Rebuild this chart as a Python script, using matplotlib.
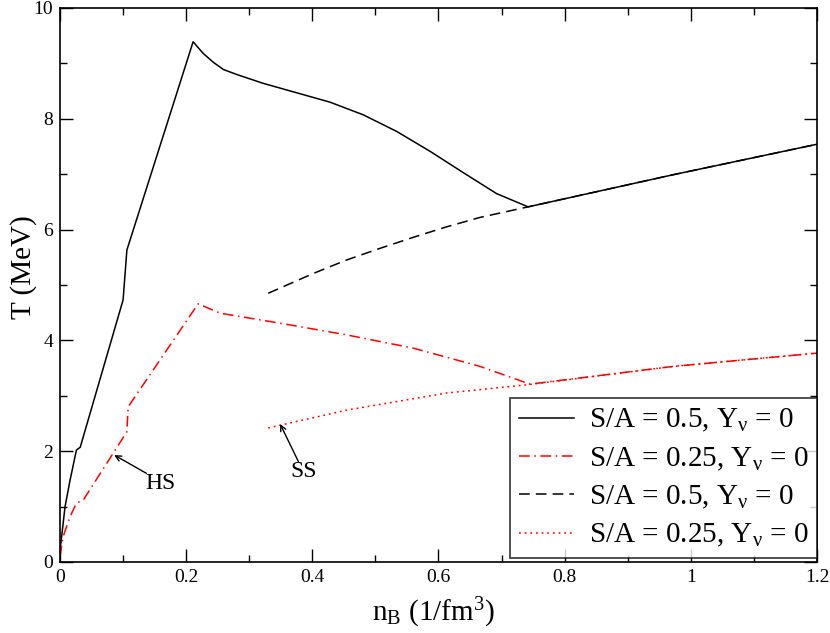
import matplotlib
matplotlib.use('Agg')
import matplotlib.pyplot as plt
from matplotlib.ticker import MultipleLocator

plt.rcParams['font.family'] = ['Liberation Serif', 'DejaVu Serif']
plt.rcParams['mathtext.fontset'] = 'custom'
plt.rcParams['mathtext.rm'] = 'Liberation Serif'
plt.rcParams['mathtext.it'] = 'Liberation Serif:italic'

# S/A = 0.5, solid (HS)
hs1_x = [0.0, 0.008, 0.016, 0.026, 0.032, 0.100, 0.106, 0.211, 0.227, 0.243, 0.259,
         0.280, 0.322, 0.375, 0.428, 0.481, 0.534, 0.587, 0.639, 0.692, 0.742, 0.972, 1.2]
hs1_y = [0.2, 1.0, 1.48, 2.02, 2.07, 4.73, 5.63, 9.39, 9.18, 9.02, 8.89,
         8.80, 8.64, 8.47, 8.30, 8.07, 7.77, 7.41, 7.03, 6.65, 6.41, 6.99, 7.54]

# S/A = 0.25, dash-dot (HS)
hs2_x = [0.0, 0.005, 0.016, 0.026, 0.037, 0.106, 0.108, 0.219, 0.254, 0.349,
         0.454, 0.560, 0.666, 0.745, 0.972, 1.2]
hs2_y = [0.1, 0.46, 0.82, 1.06, 1.12, 2.35, 2.80, 4.66, 4.49, 4.31,
         4.10, 3.86, 3.53, 3.21, 3.53, 3.77]

# S/A = 0.5, dashed (SS)
ss1_x = [0.330, 0.402, 0.454, 0.507, 0.560, 0.613, 0.666, 0.742, 0.972, 1.2]
ss1_y = [4.85, 5.21, 5.45, 5.66, 5.86, 6.05, 6.22, 6.41, 6.99, 7.54]

# S/A = 0.25, dotted (SS)
ss2_x = [0.330, 0.454, 0.613, 0.742, 0.972, 1.2]
ss2_y = [2.42, 2.74, 3.05, 3.20, 3.53, 3.77]

labels = [r'S/A = 0.5, Y$_\mathrm{\nu}$ = 0', r'S/A = 0.25, Y$_\mathrm{\nu}$ = 0',
          r'S/A = 0.5, Y$_\mathrm{\nu}$ = 0', r'S/A = 0.25, Y$_\mathrm{\nu}$ = 0']

fig = plt.figure(figsize=(8.3, 6.33), dpi=100)
ax = fig.add_axes([0.0723, 0.1122, 0.912, 0.8752])

lw = 1.1
ax.plot(hs1_x, hs1_y, color='black', lw=lw, label=labels[0])
ax.plot(hs2_x, hs2_y, color='red', lw=lw, dashes=(7, 3, 1, 3), label=labels[1])
ax.plot(ss1_x, ss1_y, color='black', lw=lw, dashes=(7, 4), label=labels[2])
ax.plot(ss2_x, ss2_y, color='red', lw=lw, dashes=(1.2, 2.5), label=labels[3])

# annotations
ax.annotate('', xy=(0.086, 1.93), xytext=(0.137, 1.60),
            arrowprops=dict(arrowstyle='->', color='black', lw=1.0, shrinkA=0, shrinkB=0))
ax.text(0.159, 1.42, 'HS', fontsize=17, ha='center', va='center')
ax.annotate('', xy=(0.349, 2.49), xytext=(0.378, 1.81),
            arrowprops=dict(arrowstyle='->', color='black', lw=1.0, shrinkA=0, shrinkB=0))
ax.text(0.386, 1.63, 'SS', fontsize=17, ha='center', va='center')

ax.set_xlim(0, 1.2)
ax.set_ylim(0, 10)
ax.xaxis.set_minor_locator(MultipleLocator(0.1))
ax.yaxis.set_major_locator(MultipleLocator(2))
ax.yaxis.set_minor_locator(MultipleLocator(1))
ax.set_xticks([0, 0.2, 0.4, 0.6, 0.8, 1.0, 1.2])
ax.set_xticklabels(['0', '0.2', '0.4', '0.6', '0.8', '1', '1.2'])
ax.tick_params(which='both', direction='in', top=True, right=True, labelsize=14, width=1.0)
ax.tick_params(which='major', length=9.5, pad=5)
ax.tick_params(which='minor', length=5)
for s in ax.spines.values():
    s.set_linewidth(1.2)

ax.set_xlabel(r'n$_\mathrm{B}$ (1/fm$^\mathrm{3}$)', fontsize=21)
ax.xaxis.set_label_coords(0.493, -0.062)
ax.set_ylabel('T (MeV)', fontsize=21)
ax.yaxis.set_label_coords(-0.030, 0.533)

leg = ax.legend(loc='lower right', bbox_to_anchor=(1.0, 0.007), borderaxespad=0,
                fontsize=21, frameon=True, fancybox=False, edgecolor='black',
                handlelength=1.9, handletextpad=0.5, labelspacing=0.38,
                borderpad=0.3)
leg.get_frame().set_linewidth(1.2)

plt.savefig('out.png', dpi=100)
